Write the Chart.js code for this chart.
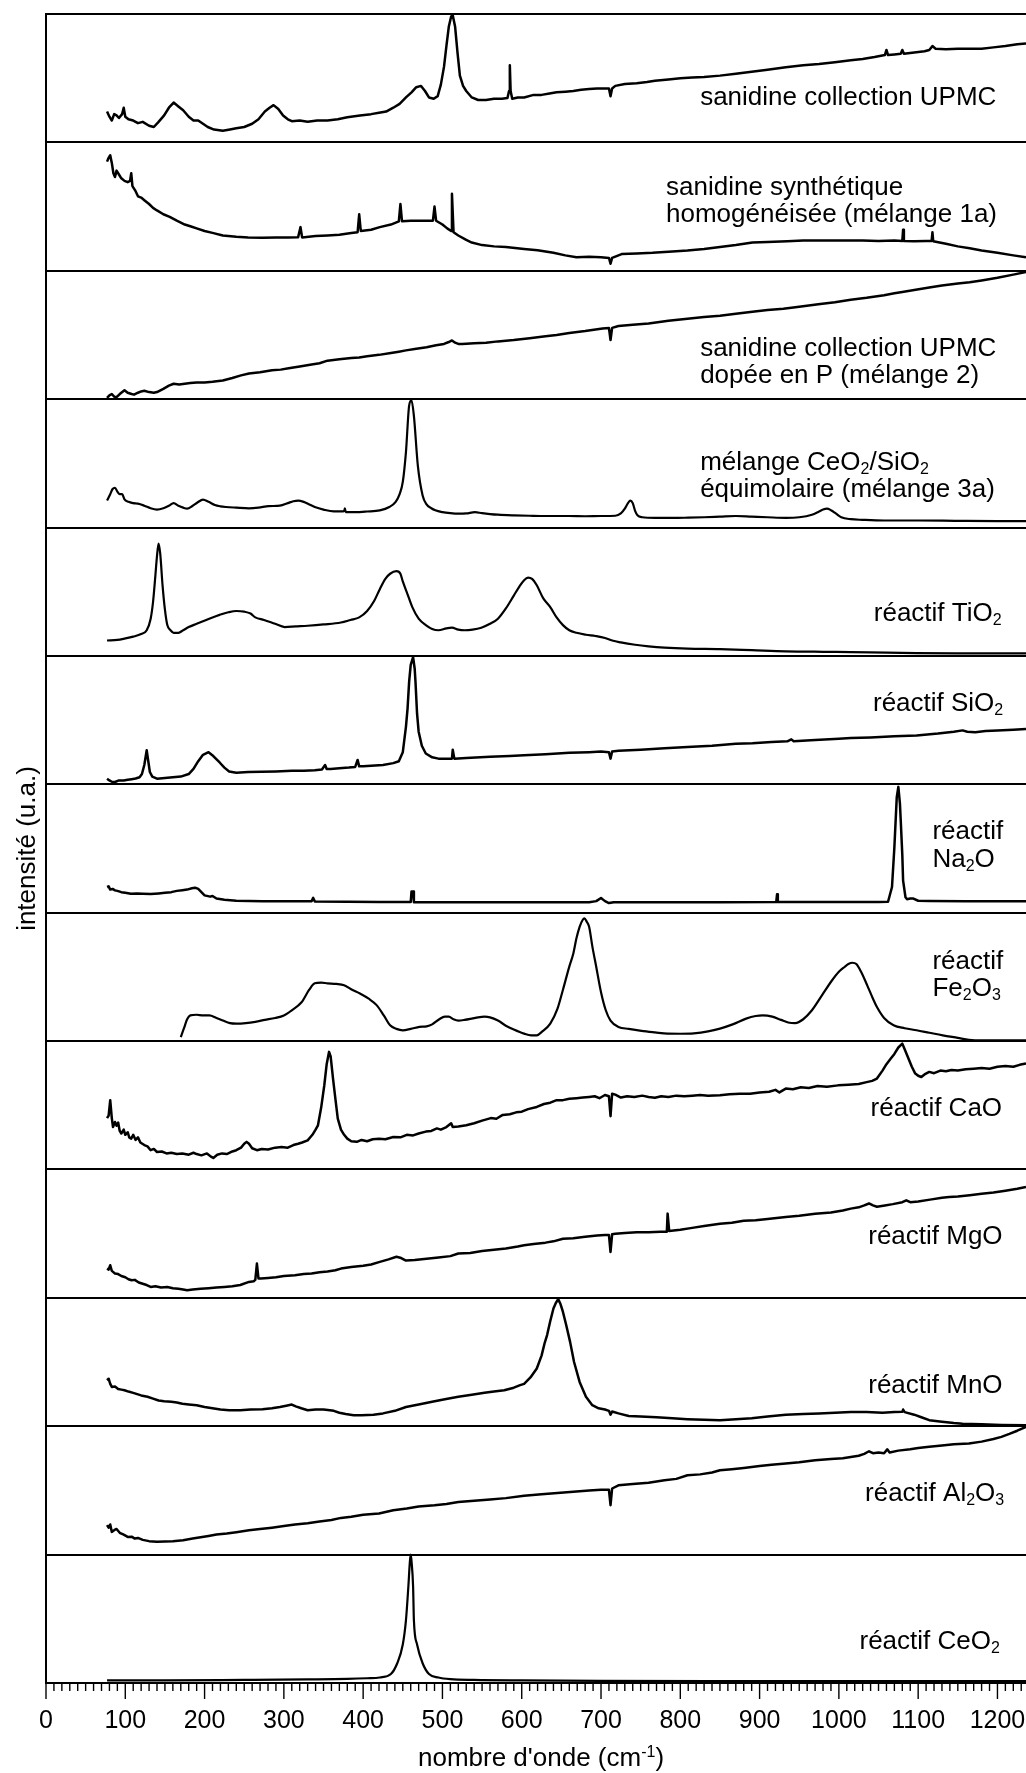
<!DOCTYPE html>
<html>
<head>
<meta charset="utf-8">
<script src="https://cdn.jsdelivr.net/npm/chart.js"></script>
<style>
  html, body { margin: 0; padding: 0; background: #fff; }
  #spectres { display: block; }
</style>
</head>
<body>
<canvas id="spectres" width="1026" height="1773"></canvas>
<script>
// spectres Raman empilés, un panneau par échantillon
// valeurs : [nombre d'onde (cm-1), intensité relative dans le panneau (0 = bas, 1 = haut)]
const sanidineUpmc = [[77,0.24],[80,0.20],[83,0.17],[86,0.22],[89,0.21],[92,0.19],[96,0.22],[98,0.27],[100,0.20],[104,0.18],[110,0.17],[116,0.15],[122,0.16],[130,0.13],[136,0.12],[142,0.16],[149,0.21],[155,0.27],[161,0.31],[167,0.28],[173,0.25],[180,0.20],[186,0.17],[192,0.17],[198,0.145],[204,0.12],[212,0.10],[223,0.09],[232,0.10],[240,0.11],[250,0.12],[260,0.145],[268,0.18],[276,0.24],[282,0.27],[287,0.29],[293,0.26],[299,0.21],[305,0.18],[310,0.165],[320,0.17],[330,0.16],[342,0.17],[355,0.17],[368,0.18],[380,0.195],[396,0.21],[410,0.22],[420,0.23],[429,0.24],[438,0.27],[446,0.30],[454,0.35],[461,0.39],[467,0.43],[473,0.44],[478,0.40],[483,0.35],[489,0.34],[494,0.36],[498,0.45],[502,0.59],[505,0.75],[508,0.90],[511,0.98],[513,0.99],[516,0.90],[519,0.70],[522,0.52],[526,0.44],[530,0.40],[537,0.35],[545,0.33],[555,0.33],[565,0.34],[575,0.34],[582,0.345],[584,0.40],[585,0.60],[586,0.40],[588,0.34],[595,0.35],[603,0.35],[615,0.37],[625,0.37],[635,0.38],[644,0.39],[655,0.395],[665,0.40],[675,0.41],[685,0.415],[695,0.42],[705,0.42],[710,0.42],[712,0.36],[714,0.42],[718,0.44],[730,0.455],[745,0.46],[758,0.47],[768,0.48],[785,0.49],[800,0.50],[815,0.505],[830,0.51],[850,0.52],[870,0.535],[890,0.55],[910,0.565],[933,0.585],[955,0.60],[975,0.61],[995,0.625],[1015,0.64],[1030,0.65],[1045,0.665],[1058,0.68],[1060,0.72],[1062,0.68],[1070,0.685],[1078,0.69],[1080,0.72],[1082,0.69],[1095,0.70],[1108,0.71],[1114,0.72],[1118,0.75],[1122,0.73],[1135,0.725],[1150,0.73],[1165,0.73],[1180,0.73],[1195,0.74],[1210,0.75],[1225,0.765],[1236,0.77]];

const sanidineSynth = [[77,0.85],[79,0.88],[81,0.90],[83,0.84],[85,0.76],[87,0.73],[89,0.78],[92,0.75],[95,0.72],[99,0.70],[103,0.69],[106,0.70],[107.5,0.76],[109,0.66],[113,0.62],[116,0.58],[120,0.57],[124,0.55],[130,0.52],[135,0.49],[140,0.47],[148,0.44],[156,0.42],[165,0.39],[175,0.36],[183,0.345],[190,0.33],[200,0.31],[210,0.295],[223,0.275],[240,0.265],[255,0.26],[273,0.257],[290,0.26],[305,0.26],[318,0.262],[321,0.34],[323,0.26],[340,0.27],[355,0.275],[370,0.28],[385,0.295],[393,0.30],[395,0.44],[397,0.31],[410,0.32],[421,0.34],[435,0.36],[445,0.385],[447,0.52],[449,0.385],[460,0.39],[475,0.39],[488,0.39],[490,0.50],[492,0.39],[500,0.36],[506,0.33],[511,0.31],[512,0.60],[514,0.30],[520,0.275],[530,0.24],[537,0.22],[550,0.20],[565,0.19],[580,0.185],[603,0.17],[620,0.16],[640,0.14],[655,0.12],[669,0.106],[685,0.11],[700,0.105],[710,0.10],[712,0.055],[714,0.10],[726,0.13],[745,0.135],[765,0.14],[790,0.15],[809,0.158],[830,0.17],[850,0.185],[870,0.20],[891,0.22],[910,0.225],[935,0.23],[955,0.235],[974,0.236],[990,0.235],[1010,0.235],[1030,0.236],[1050,0.232],[1070,0.235],[1080,0.232],[1081,0.32],[1082,0.232],[1095,0.23],[1110,0.232],[1117,0.232],[1118,0.30],[1119,0.23],[1135,0.21],[1150,0.19],[1165,0.175],[1180,0.158],[1200,0.14],[1220,0.12],[1236,0.106]];

const sanidineDopeeP = [[77,0.01],[80,0.03],[83,0.04],[86,0.02],[89,0.015],[93,0.04],[97,0.06],[99,0.07],[103,0.05],[108,0.04],[111,0.035],[116,0.05],[120,0.06],[124,0.065],[130,0.055],[136,0.05],[140,0.055],[148,0.08],[155,0.105],[161,0.12],[168,0.115],[175,0.12],[182,0.125],[190,0.13],[200,0.13],[210,0.135],[223,0.145],[235,0.165],[246,0.185],[256,0.20],[270,0.21],[285,0.225],[296,0.23],[306,0.24],[320,0.255],[335,0.27],[345,0.28],[355,0.30],[370,0.31],[385,0.32],[395,0.325],[405,0.335],[420,0.345],[435,0.36],[445,0.37],[454,0.38],[465,0.39],[480,0.405],[492,0.42],[502,0.43],[508,0.445],[512,0.457],[516,0.44],[520,0.43],[525,0.43],[540,0.435],[555,0.44],[570,0.45],[590,0.46],[610,0.475],[630,0.49],[644,0.50],[660,0.515],[680,0.53],[702,0.55],[710,0.555],[712,0.46],[714,0.555],[722,0.57],[740,0.58],[760,0.59],[785,0.61],[809,0.626],[830,0.64],[850,0.65],[870,0.665],[891,0.68],[910,0.695],[930,0.705],[950,0.72],[974,0.74],[995,0.755],[1015,0.775],[1035,0.79],[1057,0.81],[1070,0.825],[1080,0.835],[1095,0.85],[1114,0.87],[1130,0.885],[1150,0.90],[1165,0.91],[1180,0.925],[1200,0.945],[1220,0.97],[1236,0.99]];

const melangeCeSi = [[77,0.21],[81,0.26],[84,0.30],[87,0.31],[90,0.28],[93,0.26],[96,0.26],[99,0.22],[104,0.20],[110,0.19],[116,0.186],[124,0.17],[132,0.15],[140,0.14],[148,0.15],[155,0.17],[161,0.19],[167,0.17],[173,0.155],[178,0.147],[185,0.17],[191,0.195],[198,0.217],[205,0.20],[213,0.175],[220,0.165],[227,0.16],[240,0.155],[256,0.15],[268,0.155],[281,0.167],[295,0.17],[305,0.19],[312,0.205],[318,0.21],[325,0.20],[332,0.18],[339,0.16],[350,0.14],[363,0.126],[372,0.126],[376,0.128],[377,0.15],[378,0.12],[390,0.12],[405,0.125],[421,0.134],[433,0.16],[441,0.20],[446,0.26],[450,0.355],[454,0.59],[458,0.95],[461,0.99],[464,0.87],[469,0.48],[475,0.25],[480,0.18],[486,0.15],[491,0.134],[500,0.12],[510,0.112],[520,0.108],[530,0.11],[541,0.12],[550,0.112],[560,0.105],[570,0.10],[590,0.095],[610,0.092],[630,0.09],[644,0.09],[660,0.09],[680,0.088],[700,0.09],[718,0.092],[725,0.11],[730,0.147],[734,0.19],[737,0.21],[740,0.19],[743,0.13],[746,0.095],[752,0.08],[768,0.075],[790,0.075],[810,0.077],[830,0.08],[850,0.085],[870,0.09],[890,0.085],[910,0.08],[933,0.075],[950,0.08],[966,0.10],[975,0.125],[980,0.14],[985,0.147],[990,0.135],[996,0.11],[1003,0.08],[1015,0.065],[1030,0.06],[1057,0.055],[1100,0.055],[1150,0.052],[1200,0.05],[1236,0.05]];

const reactifTiO2 = [[77,0.12],[90,0.125],[99,0.135],[110,0.15],[120,0.17],[127,0.20],[132,0.29],[135,0.42],[138,0.63],[140,0.78],[142,0.875],[144,0.80],[147,0.55],[150,0.36],[153,0.24],[157,0.20],[161,0.18],[167,0.18],[173,0.20],[180,0.225],[190,0.25],[198,0.27],[210,0.30],[219,0.32],[230,0.34],[240,0.35],[250,0.345],[258,0.33],[264,0.30],[275,0.28],[289,0.25],[301,0.225],[315,0.23],[330,0.235],[350,0.245],[372,0.26],[384,0.28],[395,0.30],[405,0.35],[414,0.43],[421,0.52],[428,0.60],[434,0.64],[442,0.66],[447,0.64],[450,0.58],[456,0.48],[462,0.38],[470,0.29],[479,0.24],[487,0.21],[495,0.20],[505,0.215],[512,0.22],[520,0.205],[528,0.20],[538,0.205],[549,0.22],[560,0.25],[570,0.29],[580,0.37],[590,0.47],[597,0.54],[603,0.59],[608,0.61],[613,0.60],[619,0.55],[627,0.45],[636,0.38],[644,0.30],[652,0.24],[660,0.20],[669,0.18],[681,0.165],[693,0.155],[705,0.14],[714,0.12],[725,0.105],[743,0.087],[760,0.075],[780,0.065],[809,0.057],[850,0.053],[890,0.045],[933,0.036],[980,0.032],[1015,0.03],[1060,0.025],[1098,0.022],[1150,0.02],[1200,0.02],[1236,0.02]];

const reactifSiO2 = [[77,0.044],[80,0.03],[83,0.02],[87,0.018],[92,0.03],[98,0.03],[103,0.035],[108,0.04],[113,0.045],[118,0.055],[121,0.08],[124,0.15],[127,0.265],[129,0.18],[131,0.096],[134,0.06],[140,0.044],[150,0.05],[160,0.055],[170,0.06],[180,0.08],[186,0.12],[192,0.18],[198,0.23],[205,0.25],[211,0.22],[219,0.17],[225,0.13],[231,0.10],[240,0.09],[255,0.095],[272,0.097],[290,0.10],[310,0.105],[325,0.105],[339,0.11],[348,0.115],[352,0.15],[354,0.12],[359,0.12],[370,0.125],[382,0.13],[390,0.135],[393,0.19],[395,0.14],[400,0.14],[410,0.145],[425,0.15],[438,0.165],[445,0.18],[450,0.25],[454,0.45],[456,0.59],[458,0.80],[460,0.93],[463,0.99],[465,0.90],[466,0.80],[468,0.55],[470,0.41],[474,0.30],[479,0.24],[487,0.21],[495,0.20],[505,0.20],[512,0.20],[513,0.27],[515,0.20],[530,0.205],[560,0.215],[585,0.22],[603,0.226],[630,0.235],[660,0.245],[685,0.25],[700,0.255],[710,0.25],[712,0.20],[714,0.255],[722,0.262],[750,0.27],[780,0.28],[809,0.29],[840,0.30],[870,0.315],[891,0.32],[915,0.33],[935,0.335],[940,0.35],[943,0.335],[970,0.345],[1000,0.355],[1015,0.36],[1040,0.365],[1070,0.375],[1098,0.38],[1125,0.395],[1145,0.41],[1156,0.42],[1162,0.41],[1172,0.405],[1185,0.415],[1200,0.42],[1220,0.425],[1236,0.43]];

const reactifNa2O = [[77,0.20],[79,0.205],[81,0.18],[84,0.185],[87,0.174],[90,0.17],[95,0.16],[100,0.155],[107,0.148],[115,0.15],[122,0.148],[132,0.145],[142,0.15],[150,0.155],[158,0.16],[165,0.17],[172,0.175],[178,0.18],[184,0.19],[188,0.195],[192,0.185],[196,0.16],[200,0.135],[207,0.125],[210,0.13],[215,0.11],[225,0.10],[240,0.093],[273,0.09],[300,0.09],[335,0.09],[337,0.115],[339,0.088],[380,0.085],[420,0.083],[460,0.083],[461,0.166],[463,0.166],[464,0.082],[500,0.082],[520,0.082],[600,0.082],[685,0.082],[694,0.09],[700,0.115],[705,0.09],[710,0.075],[716,0.082],[768,0.082],[850,0.082],[921,0.083],[922,0.143],[923,0.083],[1000,0.083],[1050,0.083],[1062,0.085],[1067,0.20],[1070,0.51],[1073,0.90],[1075,0.98],[1077,0.85],[1078,0.72],[1080,0.45],[1081,0.25],[1084,0.12],[1086,0.105],[1090,0.11],[1094,0.11],[1100,0.093],[1114,0.092],[1160,0.09],[1200,0.09],[1236,0.09]];

const reactifFe2O3 = [[170,0.03],[174,0.10],[178,0.17],[182,0.20],[190,0.205],[198,0.20],[206,0.20],[215,0.18],[223,0.16],[232,0.14],[240,0.136],[252,0.14],[264,0.15],[276,0.165],[289,0.18],[300,0.20],[310,0.24],[322,0.30],[332,0.40],[339,0.45],[347,0.455],[355,0.45],[366,0.445],[376,0.435],[386,0.40],[396,0.37],[407,0.33],[417,0.28],[426,0.20],[434,0.123],[442,0.095],[450,0.084],[460,0.095],[471,0.11],[480,0.115],[487,0.13],[496,0.17],[503,0.19],[508,0.19],[514,0.17],[520,0.16],[528,0.165],[537,0.175],[545,0.185],[553,0.19],[560,0.185],[570,0.16],[580,0.12],[590,0.09],[603,0.058],[612,0.045],[619,0.045],[626,0.075],[636,0.136],[645,0.25],[652,0.40],[660,0.58],[665,0.68],[669,0.80],[673,0.89],[677,0.945],[679,0.955],[682,0.93],[685,0.89],[689,0.74],[694,0.577],[700,0.38],[706,0.24],[712,0.16],[722,0.11],[735,0.095],[751,0.08],[768,0.068],[784,0.058],[800,0.057],[817,0.06],[835,0.075],[850,0.097],[866,0.13],[883,0.175],[895,0.195],[904,0.20],[916,0.19],[927,0.165],[936,0.145],[945,0.14],[955,0.17],[966,0.24],[978,0.35],[991,0.47],[1000,0.54],[1007,0.577],[1012,0.60],[1017,0.61],[1022,0.60],[1028,0.54],[1036,0.43],[1043,0.33],[1048,0.265],[1057,0.18],[1069,0.123],[1083,0.10],[1098,0.084],[1114,0.065],[1131,0.045],[1150,0.025],[1164,0.01],[1180,0.005],[1197,0.005],[1236,0.005]];

const reactifCaO = [[77,0.40],[79,0.42],[81,0.54],[83,0.40],[84.5,0.33],[87,0.37],[89,0.34],[91,0.365],[93,0.30],[95,0.28],[98,0.31],[100,0.27],[103,0.29],[105,0.25],[107.5,0.24],[110,0.27],[113,0.23],[116,0.25],[119,0.21],[124,0.19],[128,0.18],[132,0.15],[136,0.16],[140,0.136],[146,0.14],[152,0.125],[158,0.13],[165,0.12],[172,0.125],[180,0.115],[186,0.13],[190,0.12],[196,0.11],[203,0.125],[208,0.10],[211,0.09],[216,0.115],[222,0.125],[228,0.12],[235,0.14],[240,0.15],[246,0.17],[250,0.20],[253,0.215],[256,0.20],[260,0.165],[266,0.15],[272,0.16],[280,0.155],[289,0.17],[297,0.175],[305,0.17],[312,0.19],[318,0.20],[323,0.21],[330,0.227],[336,0.27],[340,0.31],[343,0.344],[347,0.48],[351,0.656],[354,0.82],[357,0.916],[359,0.88],[362,0.708],[365,0.55],[368,0.396],[372,0.31],[376,0.27],[380,0.24],[385,0.22],[392,0.215],[398,0.23],[405,0.22],[412,0.235],[420,0.24],[428,0.235],[438,0.253],[447,0.25],[455,0.27],[463,0.265],[470,0.28],[479,0.295],[486,0.30],[493,0.32],[498,0.31],[505,0.33],[511,0.36],[513,0.33],[520,0.335],[530,0.345],[540,0.36],[550,0.38],[561,0.40],[568,0.395],[576,0.425],[585,0.43],[593,0.445],[600,0.45],[608,0.47],[619,0.487],[628,0.51],[636,0.52],[644,0.54],[652,0.54],[660,0.55],[669,0.555],[677,0.56],[685,0.565],[692,0.57],[698,0.555],[705,0.58],[710,0.57],[712,0.415],[714,0.59],[718,0.583],[725,0.56],[733,0.57],[742,0.565],[752,0.575],[760,0.565],[768,0.558],[776,0.57],[785,0.565],[795,0.575],[805,0.57],[815,0.575],[825,0.58],[835,0.575],[850,0.578],[862,0.585],[875,0.59],[888,0.59],[900,0.60],[912,0.605],[920,0.62],[925,0.60],[933,0.63],[942,0.625],[952,0.64],[962,0.635],[973,0.65],[985,0.645],[999,0.655],[1012,0.66],[1025,0.665],[1035,0.68],[1042,0.69],[1048,0.708],[1055,0.77],[1060,0.82],[1065,0.86],[1070,0.90],[1075,0.95],[1080,0.98],[1084,0.92],[1088,0.86],[1092,0.80],[1096,0.75],[1100,0.73],[1104,0.72],[1108,0.74],[1114,0.76],[1120,0.75],[1128,0.77],[1135,0.765],[1142,0.775],[1150,0.77],[1160,0.78],[1170,0.785],[1180,0.79],[1190,0.785],[1200,0.80],[1210,0.805],[1220,0.80],[1228,0.815],[1236,0.825]];

const reactifMgO = [[77,0.228],[79,0.22],[81,0.254],[83,0.21],[87,0.19],[91,0.185],[95,0.17],[100,0.16],[104,0.145],[108,0.137],[112,0.14],[117,0.12],[122,0.11],[127,0.10],[132,0.085],[138,0.09],[145,0.08],[153,0.085],[160,0.075],[167,0.07],[173,0.065],[178,0.059],[185,0.065],[195,0.07],[205,0.075],[215,0.08],[225,0.085],[235,0.09],[245,0.10],[256,0.124],[262,0.13],[264,0.14],[266,0.267],[268,0.15],[271,0.15],[280,0.155],[290,0.16],[300,0.17],[314,0.176],[325,0.185],[335,0.19],[345,0.20],[355,0.205],[365,0.215],[372,0.228],[385,0.24],[400,0.25],[410,0.26],[421,0.28],[432,0.30],[442,0.32],[448,0.31],[454,0.29],[465,0.295],[480,0.305],[495,0.315],[510,0.325],[520,0.345],[535,0.35],[550,0.365],[565,0.375],[580,0.385],[595,0.40],[603,0.41],[615,0.42],[630,0.43],[640,0.44],[652,0.46],[665,0.465],[680,0.475],[695,0.485],[705,0.49],[710,0.49],[712,0.357],[714,0.495],[718,0.50],[730,0.505],[745,0.51],[760,0.51],[775,0.515],[783,0.515],[784,0.656],[786,0.52],[800,0.53],[815,0.545],[830,0.56],[850,0.578],[865,0.585],[880,0.60],[895,0.605],[910,0.615],[933,0.63],[950,0.64],[970,0.655],[990,0.665],[1005,0.68],[1015,0.695],[1025,0.705],[1032,0.72],[1038,0.735],[1043,0.72],[1048,0.71],[1058,0.72],[1068,0.73],[1080,0.745],[1085,0.76],[1090,0.745],[1100,0.75],[1115,0.765],[1130,0.78],[1139,0.786],[1150,0.79],[1165,0.80],[1180,0.81],[1195,0.82],[1210,0.835],[1225,0.85],[1236,0.864]];

const reactifMnO = [[77,0.358],[79,0.37],[81,0.33],[83,0.306],[87,0.31],[91,0.29],[95,0.285],[99,0.28],[104,0.27],[110,0.26],[115,0.25],[120,0.24],[128,0.23],[135,0.215],[142,0.20],[149,0.195],[158,0.19],[165,0.185],[172,0.175],[180,0.17],[190,0.164],[200,0.15],[210,0.14],[220,0.13],[231,0.125],[245,0.125],[258,0.13],[273,0.132],[285,0.14],[295,0.15],[303,0.16],[310,0.169],[315,0.155],[322,0.14],[330,0.125],[340,0.13],[350,0.13],[358,0.125],[363,0.12],[370,0.105],[378,0.095],[388,0.086],[398,0.085],[413,0.09],[425,0.10],[440,0.12],[454,0.15],[470,0.17],[487,0.19],[503,0.21],[520,0.23],[537,0.245],[553,0.26],[565,0.27],[578,0.28],[590,0.30],[598,0.32],[603,0.33],[611,0.38],[619,0.45],[625,0.55],[629,0.65],[632,0.71],[636,0.82],[640,0.917],[643,0.96],[646,0.99],[649,0.95],[652,0.89],[656,0.79],[661,0.657],[666,0.50],[673,0.345],[681,0.23],[689,0.164],[697,0.14],[705,0.13],[710,0.12],[712,0.09],[714,0.115],[722,0.10],[735,0.08],[750,0.075],[770,0.07],[790,0.062],[809,0.055],[830,0.05],[850,0.047],[870,0.055],[890,0.062],[910,0.075],[933,0.09],[955,0.095],[975,0.10],[995,0.105],[1015,0.11],[1035,0.11],[1055,0.105],[1070,0.11],[1080,0.112],[1081,0.13],[1083,0.11],[1095,0.09],[1104,0.07],[1114,0.047],[1130,0.035],[1145,0.025],[1156,0.02],[1180,0.015],[1205,0.01],[1236,0.008]];

const reactifAl2O3 = [[77,0.23],[79,0.21],[81,0.235],[83,0.177],[86,0.19],[89,0.20],[93,0.17],[98,0.155],[103,0.138],[108,0.14],[112,0.125],[116,0.13],[122,0.115],[130,0.105],[140,0.10],[150,0.102],[160,0.105],[173,0.112],[185,0.125],[195,0.135],[205,0.145],[215,0.156],[228,0.165],[240,0.175],[256,0.19],[270,0.20],[285,0.21],[300,0.222],[314,0.234],[330,0.245],[345,0.258],[360,0.27],[372,0.286],[385,0.295],[400,0.31],[420,0.32],[438,0.346],[455,0.36],[470,0.375],[490,0.385],[505,0.395],[520,0.41],[540,0.42],[560,0.43],[580,0.44],[603,0.458],[625,0.47],[645,0.48],[665,0.49],[685,0.50],[700,0.505],[710,0.505],[712,0.385],[714,0.515],[722,0.54],[740,0.55],[760,0.56],[780,0.58],[795,0.59],[809,0.618],[825,0.625],[840,0.64],[850,0.657],[865,0.665],[880,0.675],[900,0.69],[915,0.70],[933,0.71],[950,0.72],[970,0.735],[990,0.745],[1005,0.75],[1015,0.76],[1025,0.77],[1032,0.785],[1038,0.805],[1043,0.79],[1050,0.795],[1057,0.79],[1061,0.82],[1064,0.795],[1075,0.81],[1090,0.82],[1100,0.83],[1114,0.84],[1130,0.85],[1145,0.86],[1164,0.866],[1180,0.88],[1195,0.90],[1205,0.917],[1215,0.94],[1225,0.965],[1236,0.995]];

const reactifCeO2 = [[77,0.02],[150,0.02],[250,0.024],[330,0.028],[380,0.032],[405,0.037],[421,0.043],[435,0.07],[443,0.154],[450,0.30],[454,0.49],[457,0.75],[459,0.95],[460,1.0],[461,0.95],[463,0.75],[464,0.49],[468,0.30],[475,0.154],[483,0.07],[495,0.043],[510,0.03],[540,0.024],[600,0.02],[700,0.017],[850,0.015],[1000,0.015],[1236,0.015]];

// ordre des panneaux, de haut en bas
const spectra = [sanidineUpmc, sanidineSynth, sanidineDopeeP, melangeCeSi, reactifTiO2, reactifSiO2,
  reactifNa2O, reactifFe2O3, reactifCaO, reactifMgO, reactifMnO, reactifAl2O3, reactifCeO2];
const smoothSpectra = [3, 4, 7, 12];

// légendes des panneaux (_{..} = indice, ^{..} = exposant)
const panelNames = [
  ['sanidine collection UPMC'],
  ['sanidine synthétique', 'homogénéisée (mélange 1a)'],
  ['sanidine collection UPMC', 'dopée en P (mélange 2)'],
  ['mélange CeO_{2}/SiO_{2}', 'équimolaire (mélange 3a)'],
  ['réactif TiO_{2}'],
  ['réactif SiO_{2}'],
  ['réactif', 'Na_{2}O'],
  ['réactif', 'Fe_{2}O_{3}'],
  ['réactif CaO'],
  ['réactif MgO'],
  ['réactif MnO'],
  ['réactif Al_{2}O_{3}'],
  ['réactif CeO_{2}']
];
// position de la légende : [nombre d'onde du début du texte, hauteur dans le panneau de chaque ligne]
const namePlaces = [
  [825, [0.36]], [782, [0.66, 0.45]], [825, [0.41, 0.20]], [825, [0.52, 0.31]],
  [1044, [0.347]], [1043, [0.644]], [1118, [0.645, 0.43]], [1118, [0.63, 0.425]],
  [1040, [0.49]], [1037, [0.49]], [1037, [0.33]], [1033, [0.49]], [1026, [0.34]]
];

const xTitle = "nombre d'onde (cm^{-1})";
const yTitle = 'intensité (u.a.)';
const FONT = '"Liberation Sans", Arial, Helvetica, sans-serif';
const nPanels = spectra.length;

// texte avec indices / exposants
function richText(ctx, str, x, y, size, dry) {
  const re = /([_^])\{([^}]*)\}/g;
  const big = size + 'px ' + FONT;
  const small = Math.round(size * 0.6) + 'px ' + FONT;
  let last = 0, cx = x, m;
  const put = (t, f, dy) => {
    ctx.font = f;
    if (!dry) ctx.fillText(t, cx, y + dy);
    cx += ctx.measureText(t).width;
  };
  while ((m = re.exec(str)) !== null) {
    if (m.index > last) put(str.slice(last, m.index), big, 0);
    put(m[2], small, m[1] === '_' ? size * 0.16 : -size * 0.36);
    last = re.lastIndex;
  }
  if (last < str.length) put(str.slice(last), big, 0);
  return cx - x;
}

const decorations = {
  id: 'decorations',
  afterDraw(chart) {
    const ctx = chart.ctx;
    const xs = chart.scales.x, ys = chart.scales.y;
    const area = chart.chartArea;
    ctx.save();
    // graduations de l'axe x : 100 (longues) et 10 (courtes)
    ctx.strokeStyle = '#000';
    ctx.lineWidth = 1.4;
    for (let v = 0; v <= xs.max; v += 10) {
      const px = xs.getPixelForValue(v);
      ctx.beginPath();
      ctx.moveTo(px, area.bottom);
      ctx.lineTo(px, area.bottom + (v % 100 === 0 ? 16 : 8));
      ctx.stroke();
    }
    // légendes des panneaux
    ctx.fillStyle = '#000';
    ctx.textAlign = 'left';
    ctx.textBaseline = 'alphabetic';
    panelNames.forEach((lines, p) => {
      const [xv, heights] = namePlaces[p];
      const px = xs.getPixelForValue(xv);
      lines.forEach((line, k) => {
        const py = ys.getPixelForValue(nPanels - 1 - p + heights[k]) + 9.3;
        richText(ctx, line, px, py, 26);
      });
    });
    // titre axe x
    const w = richText(ctx, xTitle, 0, 0, 26, true);
    richText(ctx, xTitle, 541 - w / 2, 1766, 26);
    // titre axe y
    ctx.translate(27.5, (area.top + area.bottom) / 2);
    ctx.rotate(-Math.PI / 2);
    ctx.font = '26px ' + FONT;
    ctx.textAlign = 'center';
    ctx.textBaseline = 'middle';
    ctx.fillText(yTitle, 0, 0);
    ctx.restore();
  }
};

const datasets = spectra.map((serie, p) => ({
  data: serie.map(([x, v]) => ({ x: x, y: nPanels - 1 - p + v })),
  borderColor: '#000',
  borderWidth: smoothSpectra.includes(p) ? 2.2 : 2.5,
  borderJoinStyle: 'round',
  pointRadius: 0,
  fill: false,
  cubicInterpolationMode: smoothSpectra.includes(p) ? 'monotone' : 'default',
  tension: 0
}));

const ctx = document.getElementById('spectres').getContext('2d');
const spectresChart = new Chart(ctx, {
  type: 'line',
  data: { datasets: datasets },
  options: {
    responsive: false,
    animation: false,
    devicePixelRatio: 1,
    layout: { padding: { top: 14, right: 0, bottom: 0, left: 0 } },
    plugins: {
      legend: { display: false },
      tooltip: { enabled: false }
    },
    scales: {
      x: {
        type: 'linear',
        min: 0,
        max: 1236,
        afterFit: function (scale) {
          scale.height = 90;
          scale.paddingLeft = 0;
          scale.paddingRight = 0;
        },
        border: { display: false },
        grid: { display: false, drawTicks: false },
        ticks: {
          stepSize: 100,
          includeBounds: false,
          autoSkip: false,
          maxRotation: 0,
          padding: 3,
          color: '#000',
          font: { family: FONT, size: 25, lineHeight: 2.8 },
          callback: function (val) { return val % 100 === 0 ? String(val) : ''; }
        }
      },
      y: {
        min: 0,
        max: nPanels,
        afterFit: function (scale) {
          scale.width = 46;
          scale.paddingTop = 0;
          scale.paddingBottom = 0;
        },
        border: { display: true, color: '#000', width: 2 },
        grid: { color: '#000', lineWidth: 2, drawTicks: false },
        ticks: { display: false, stepSize: 1 }
      }
    }
  },
  plugins: [decorations]
});
</script>
</body>
</html>
